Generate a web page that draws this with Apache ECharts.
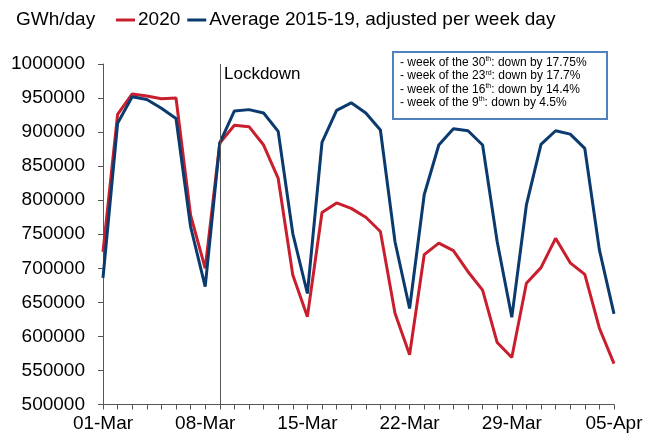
<!DOCTYPE html>
<html>
<head>
<meta charset="utf-8">
<script src="https://cdn.jsdelivr.net/npm/echarts@6/dist/echarts.min.js"></script>
<style>
html,body{margin:0;padding:0;background:#fff;}
#chart{width:663px;height:435px;}
</style>
</head>
<body>
<div id="chart"></div>
<script>
var categories = ['01-Mar','02-Mar','03-Mar','04-Mar','05-Mar','06-Mar','07-Mar','08-Mar','09-Mar','10-Mar',
  '11-Mar','12-Mar','13-Mar','14-Mar','15-Mar','16-Mar','17-Mar','18-Mar','19-Mar','20-Mar',
  '21-Mar','22-Mar','23-Mar','24-Mar','25-Mar','26-Mar','27-Mar','28-Mar','29-Mar','30-Mar',
  '31-Mar','01-Apr','02-Apr','03-Apr','04-Apr','05-Apr'];
var values2020 = [724000, 926000, 956000, 953000, 949000, 950000, 778000, 700000, 884000, 910000,
  908000, 881000, 832000, 690000, 629000, 782000, 796000, 788000, 775000, 754000,
  634000, 573000, 720000, 737000, 726000, 695000, 668000, 591000, 569000, 678000,
  701000, 744000, 708000, 691000, 612000, 560000];
var valuesAvg = [686000, 913000, 952000, 948000, 935000, 920000, 761000, 673000, 884000, 931000,
  933000, 928000, 901000, 751000, 663000, 885000, 932000, 943000, 928000, 903000,
  739000, 641000, 808000, 881000, 905000, 902000, 881000, 739000, 628000, 793000,
  882000, 902000, 897000, 876000, 727000, 633000];
var seriesNames = ['2020', 'Average 2015-19, adjusted per week day'];
var lockdownDate = '09-Mar';
var yMin = 500000, yMax = 1000000, yStep = 50000;

var chart = echarts.init(document.getElementById('chart'));
var font = 'Liberation Sans, Arial, sans-serif';
chart.setOption({
  animation: false,
  backgroundColor: '#fff',
  textStyle: { fontFamily: font },
  title: {
    text: 'GWh/day', left: 16, top: 9, padding: 0,
    textStyle: { fontSize: 19, fontWeight: 'normal', color: '#000', fontFamily: font, lineHeight: 22 }
  },
  legend: {
    data: seriesNames, left: 116, top: 9, padding: 0,
    icon: 'rect', itemWidth: 19, itemHeight: 3, itemGap: 7,
    textStyle: { fontSize: 19, color: '#000', fontFamily: font, lineHeight: 22, padding: [0,0,0,-2] }
  },
  grid: { left: 103, right: 49, top: 64, bottom: 30.5, containLabel: false },
  xAxis: {
    type: 'category', data: categories, boundaryGap: false,
    axisLine: { lineStyle: { color: '#555', width: 1 } },
    axisTick: { show: true, interval: 0, length: 5, lineStyle: { color: '#555' } },
    axisLabel: { interval: 6, fontSize: 19, color: '#000', margin: 10, fontFamily: font },
    splitLine: { show: false }
  },
  yAxis: {
    type: 'value', min: yMin, max: yMax, interval: yStep,
    axisLine: { show: true, lineStyle: { color: '#555', width: 1 } },
    axisTick: { show: true, length: 5, lineStyle: { color: '#555' } },
    axisLabel: { fontSize: 19, color: '#000', margin: 18, fontFamily: font,
      formatter: function (v) { return String(v); } },
    splitLine: { show: false }
  },
  series: [
    {
      name: seriesNames[0], type: 'line', data: values2020, showSymbol: false, symbol: 'none',
      lineStyle: { width: 3, color: '#C81E2D' }, itemStyle: { color: '#C81E2D' },
      markLine: {
        silent: true, symbol: 'none', animation: false,
        lineStyle: { color: '#555', width: 1, type: 'solid' },
        label: { show: false },
        data: [{ xAxis: lockdownDate }]
      }
    },
    {
      name: seriesNames[1], type: 'line', data: valuesAvg, showSymbol: false, symbol: 'none',
      lineStyle: { width: 3, color: '#0A3A6E' }, itemStyle: { color: '#0A3A6E' }
    }
  ],
  graphic: [
    {
      type: 'text', left: 224, top: 66,
      style: { text: 'Lockdown', fontSize: 17, fill: '#000', fontFamily: font }
    },
    {
      type: 'rect', left: 392, top: 51, z: 10,
      shape: { width: 214, height: 67 },
      style: { fill: '#fff', stroke: '#4F81BD', lineWidth: 2 }
    },
    {
      type: 'text', left: 400, top: 56, z: 11,
      style: {
        text: '{a|- week of the 30}{s|th}{a|: down by 17.75%}\n' +
              '{a|- week of the 23}{s|rd}{a|: down by 17.7%}\n' +
              '{a|- week of the 16}{s|th}{a|: down by 14.4%}\n' +
              '{a|- week of the 9}{s|th}{a|: down by 4.5%}',
        fontFamily: font, fill: '#000',
        rich: {
          a: { fontSize: 12, lineHeight: 13.3, fontFamily: font, fill: '#000' },
          s: { fontSize: 7, lineHeight: 13.3, verticalAlign: 'top', fontFamily: font, fill: '#000', padding: [0,0,5,0] }
        }
      }
    }
  ]
});
</script>
</body>
</html>
